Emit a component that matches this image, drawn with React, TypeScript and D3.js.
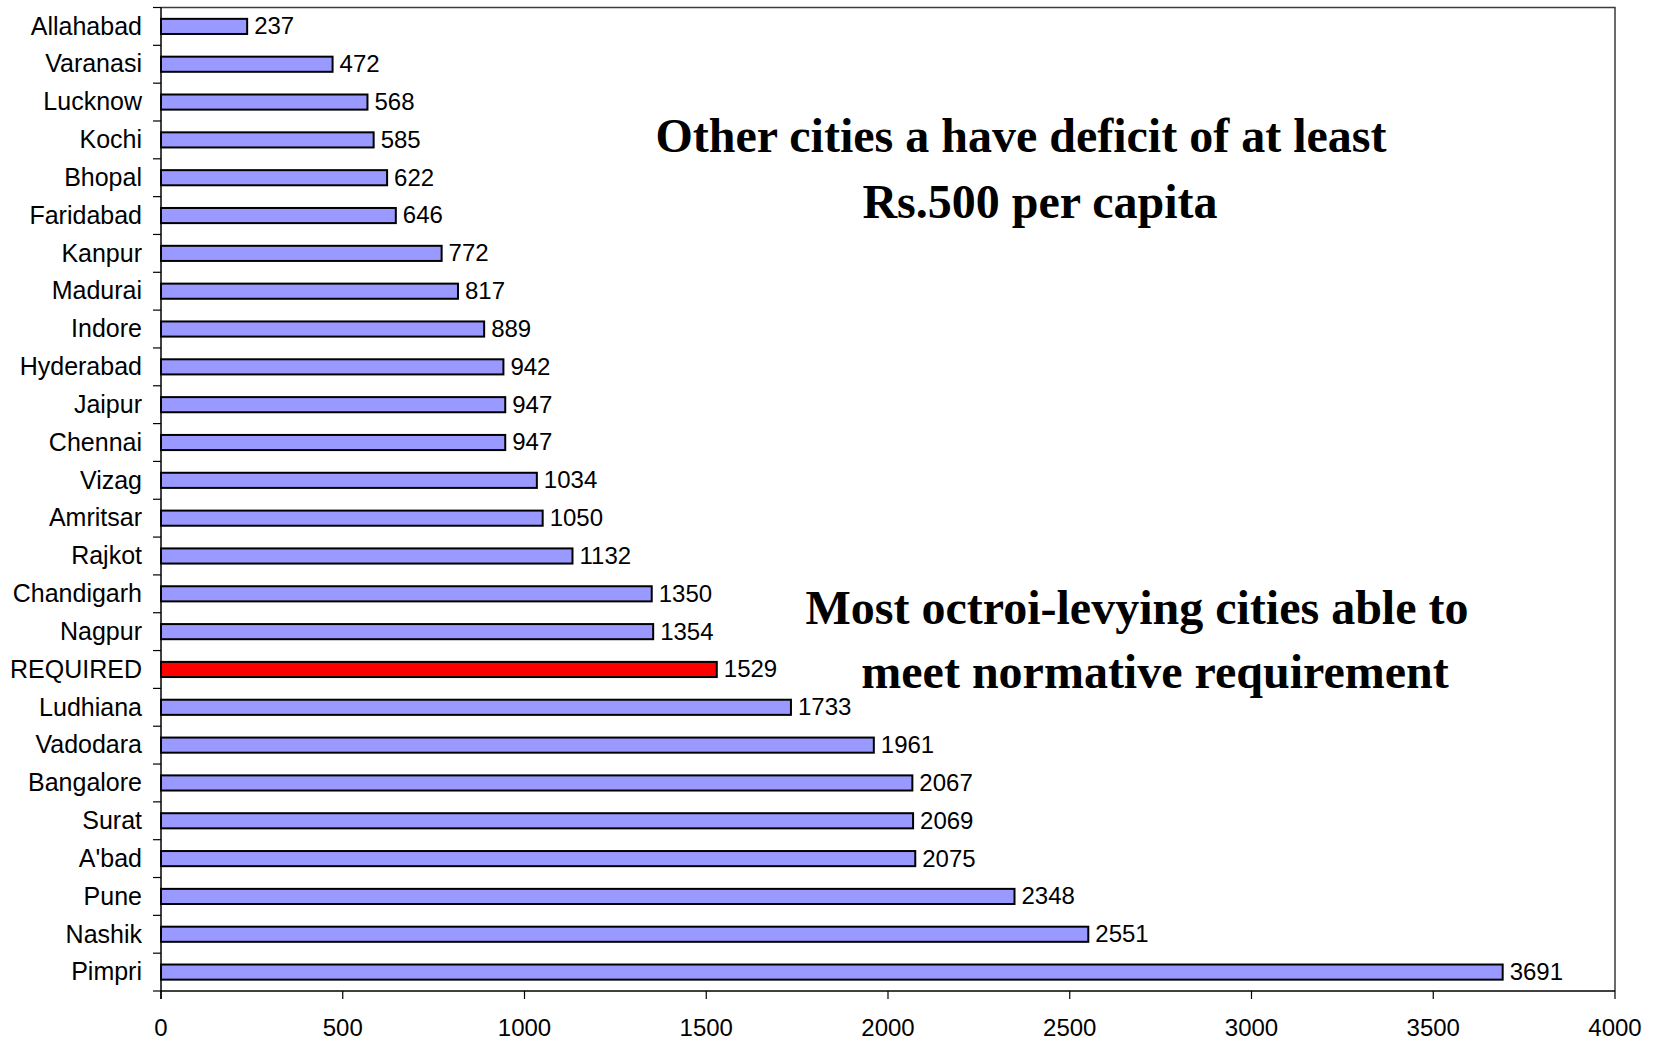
import React from "react";
import * as d3 from "d3";

// Per-capita figures, top to bottom as in the chart
const cities = [
  "Allahabad", "Varanasi", "Lucknow", "Kochi", "Bhopal", "Faridabad", "Kanpur",
  "Madurai", "Indore", "Hyderabad", "Jaipur", "Chennai", "Vizag", "Amritsar",
  "Rajkot", "Chandigarh", "Nagpur", "REQUIRED", "Ludhiana", "Vadodara",
  "Bangalore", "Surat", "A'bad", "Pune", "Nashik", "Pimpri",
];
const values = [
  237, 472, 568, 585, 622, 646, 772, 817, 889, 942, 947, 947, 1034, 1050,
  1132, 1350, 1354, 1529, 1733, 1961, 2067, 2069, 2075, 2348, 2551, 3691,
];
const xTicks = [0, 500, 1000, 1500, 2000, 2500, 3000, 3500, 4000];
const noteTop = ["Other cities a have deficit of at least", "Rs.500 per capita"];
const noteBottom = ["Most octroi-levying cities able to", "meet normative requirement"];

const W = 1659;
const H = 1040;
const margin = { top: 7.5, right: 44, bottom: 49, left: 161 };

export default function App() {
  const data = cities.map((c, i) => ({ city: c, value: values[i] }));

  const x = d3
    .scaleLinear()
    .domain([0, 4000])
    .range([margin.left, W - margin.right]);

  const y = d3
    .scaleBand<string>()
    .domain(cities)
    .range([margin.top, H - margin.bottom])
    .paddingInner(0.6)
    .paddingOuter(0.3);

  const top = margin.top;
  const bottom = H - margin.bottom;
  const step = (bottom - top) / cities.length;
  const boundaries = d3.range(cities.length + 1).map(i => top + i * step);

  const sans = "'Liberation Sans', Arial, sans-serif";
  const serif = "'Liberation Serif', 'Times New Roman', serif";

  return (
    <svg
      width={W}
      height={H}
      style={{ position: "absolute", left: 0, top: 0, background: "#fff" }}
    >
      {/* frame on top and right */}
      <path
        d={`M${x(0)},${top}H${x(4000)}V${bottom}`}
        fill="none"
        stroke="#3a3a3a"
        strokeWidth={1.5}
      />

      {/* bars */}
      {data.map(d => (
        <rect
          key={d.city}
          x={x(0)}
          y={y(d.city)}
          width={x(d.value) - x(0)}
          height={y.bandwidth()}
          fill={d.city === "REQUIRED" ? "#ff0000" : "#9999ff"}
          stroke="#000"
          strokeWidth={2}
        />
      ))}

      {/* value labels */}
      {data.map(d => (
        <text
          key={"v" + d.city}
          x={x(d.value) + 7}
          y={(y(d.city) as number) + y.bandwidth() / 2}
          dy="0.33em"
          fontFamily={sans}
          fontSize={24}
          fill="#000"
        >
          {d.value}
        </text>
      ))}

      {/* category axis */}
      <line x1={x(0)} x2={x(0)} y1={top} y2={bottom + 8} stroke="#000" strokeWidth={1.5} />
      {boundaries.map((b, i) => (
        <line key={"t" + i} x1={x(0) - 8} x2={x(0)} y1={b} y2={b} stroke="#000" strokeWidth={1.2} />
      ))}
      {cities.map(c => (
        <text
          key={"c" + c}
          x={x(0) - 19}
          y={(y(c) as number) + y.bandwidth() / 2}
          dy="0.33em"
          textAnchor="end"
          fontFamily={sans}
          fontSize={25}
          fill="#000"
        >
          {c}
        </text>
      ))}

      {/* value axis */}
      <line x1={x(0)} x2={x(4000)} y1={bottom} y2={bottom} stroke="#000" strokeWidth={1.5} />
      {xTicks.map(t => (
        <g key={"x" + t}>
          <line x1={x(t)} x2={x(t)} y1={bottom} y2={bottom + 8} stroke="#000" strokeWidth={1.2} />
          <text
            x={x(t)}
            y={bottom + 36}
            dy="0.36em"
            textAnchor="middle"
            fontFamily={sans}
            fontSize={24}
            fill="#000"
          >
            {t}
          </text>
        </g>
      ))}

      {/* annotations */}
      <text fontFamily={serif} fontWeight="bold" fontSize={48} textAnchor="middle" fill="#000">
        <tspan x={1021} y={152}>{noteTop[0]}</tspan>
        <tspan x={1040} y={218}>{noteTop[1]}</tspan>
      </text>
      <text fontFamily={serif} fontWeight="bold" fontSize={48} textAnchor="middle" fill="#000">
        <tspan x={1137} y={624}>{noteBottom[0]}</tspan>
        <tspan x={1155} y={688}>{noteBottom[1]}</tspan>
      </text>
    </svg>
  );
}
